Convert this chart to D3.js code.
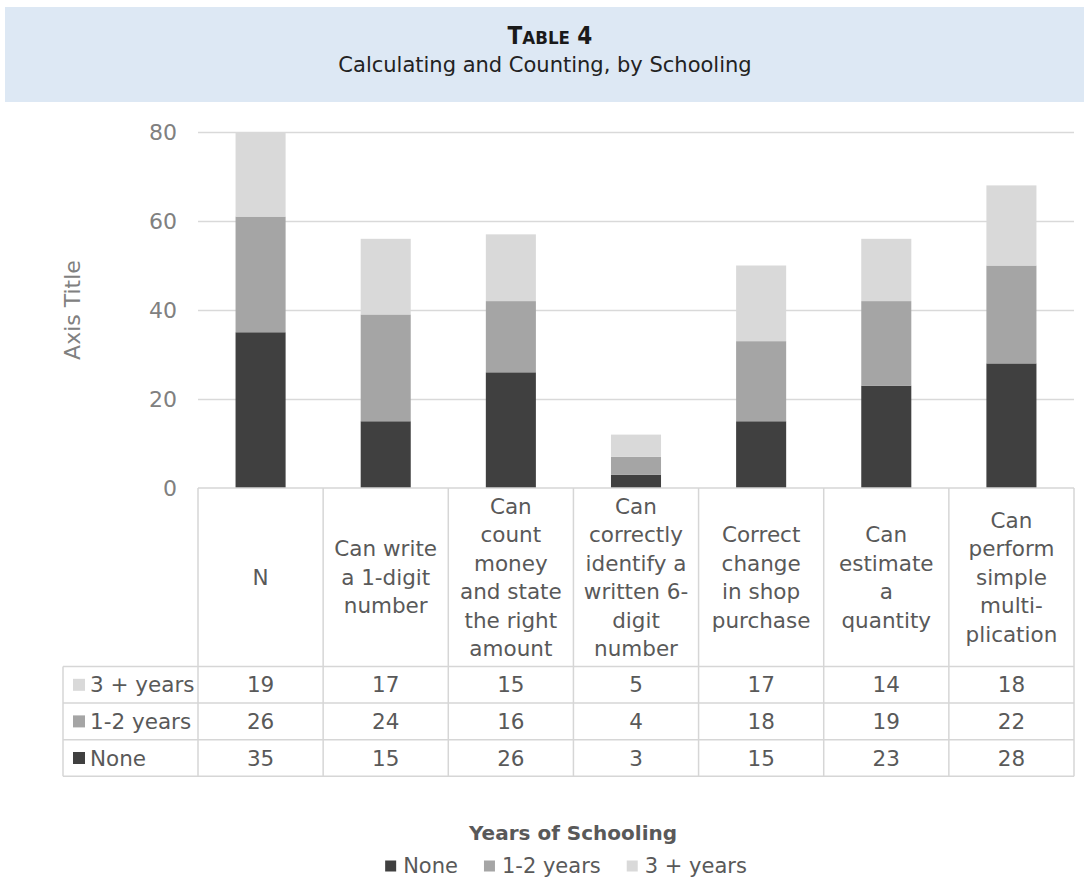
<!DOCTYPE html>
<html>
<head>
<meta charset="utf-8">
<script src="https://cdn.jsdelivr.net/npm/d3@7"></script>
<style>
  html, body { margin: 0; padding: 0; background: #ffffff; }
  svg { display: block; }
  text { font-family: "DejaVu Sans", "Noto Sans", sans-serif; }
</style>
</head>
<body>
<svg id="chart" width="1084" height="879"></svg>
<script>
// Skills measured (multi-line labels as shown in the table header)
const categories = [
  ["N"],
  ["Can write", "a 1-digit", "number"],
  ["Can", "count", "money", "and state", "the right", "amount"],
  ["Can", "correctly", "identify a", "written 6-", "digit", "number"],
  ["Correct", "change", "in shop", "purchase"],
  ["Can", "estimate", "a", "quantity"],
  ["Can", "perform", "simple", "multi-", "plication"]
];

// Counts by years of schooling
const none      = [35, 15, 26, 3, 15, 23, 28];
const oneTwo    = [26, 24, 16, 4, 18, 19, 22];
const threePlus = [19, 17, 15, 5, 17, 14, 18];

const seriesNames  = ["None", "1-2 years", "3 + years"];
const seriesColors = ["#404040", "#a5a5a5", "#d9d9d9"];
const yTicks = [0, 20, 40, 60, 80];

const svg = d3.select("#chart");

// Header band
svg.append("rect")
  .attr("x", 5).attr("y", 7).attr("width", 1079).attr("height", 95)
  .attr("fill", "#dde8f4");

const title = svg.append("text")
  .attr("x", 550).attr("y", 44)
  .attr("text-anchor", "middle")
  .style("font-family", "'Liberation Sans Narrow', 'DejaVu Sans Condensed', sans-serif")
  .style("font-weight", "bold")
  .attr("fill", "#1a1a1a");
title.append("tspan").attr("font-size", 24).text("T");
title.append("tspan").attr("font-size", 18.5).text("ABLE");
title.append("tspan").attr("font-size", 24).text(" 4");

svg.append("text")
  .attr("x", 545).attr("y", 72)
  .attr("text-anchor", "middle")
  .attr("font-size", 21)
  .attr("fill", "#222222")
  .text("Calculating and Counting, by Schooling");

// Scales
const idx = d3.range(categories.length);
const plotLeft = 198, plotRight = 1074;
const cellX = d3.scaleBand().domain(idx).range([plotLeft, plotRight]);
const barX = d3.scaleBand().domain(idx).range([plotLeft, plotRight])
  .paddingInner(0.6).paddingOuter(0.3);
const y = d3.scaleLinear().domain([0, 80]).range([488, 132]);

// Gridlines
svg.append("g")
  .attr("transform", `translate(${plotLeft},0)`)
  .call(d3.axisLeft(y).tickValues(yTicks.filter(t => t > 0))
    .tickSize(-(plotRight - plotLeft)).tickFormat(""))
  .call(g => g.select(".domain").remove())
  .call(g => g.selectAll("line").attr("stroke", "#d9d9d9").attr("stroke-width", 1.5));

// Y tick labels
svg.append("g")
  .attr("transform", `translate(${plotLeft},0)`)
  .call(d3.axisLeft(y).tickValues(yTicks).tickSize(0).tickPadding(21))
  .call(g => g.select(".domain").remove())
  .call(g => g.selectAll("text")
    .attr("font-size", 22)
    .attr("fill", "#808080")
    .style("font-family", "'DejaVu Sans', sans-serif"));

// Axis title
svg.append("text")
  .attr("transform", "translate(80,310) rotate(-90)")
  .attr("text-anchor", "middle")
  .attr("font-size", 22)
  .attr("fill", "#808080")
  .text("Axis Title");

// Stacked bars
const rows = idx.map(i => ({ i, none: none[i], oneTwo: oneTwo[i], threePlus: threePlus[i] }));
const stack = d3.stack().keys(["none", "oneTwo", "threePlus"])(rows);

svg.append("g").selectAll("g")
  .data(stack)
  .join("g")
  .attr("fill", (d, k) => seriesColors[k])
  .selectAll("rect")
  .data(d => d)
  .join("rect")
  .attr("x", d => barX(d.data.i))
  .attr("width", barX.bandwidth())
  .attr("y", d => y(d[1]))
  .attr("height", d => y(d[0]) - y(d[1]));

// Data table
const headerTop = y(0), headerBottom = 666.5, rowH = 36.6;
const tableLeft = 63;
const gridColor = "#d6d6d6";
const table = svg.append("g");

const tableRows = [
  { name: "3 + years", color: seriesColors[2], vals: threePlus },
  { name: "1-2 years", color: seriesColors[1], vals: oneTwo },
  { name: "None",      color: seriesColors[0], vals: none }
];
const tableBottom = headerBottom + rowH * tableRows.length;

// horizontal lines
table.append("line")
  .attr("x1", plotLeft).attr("x2", plotRight)
  .attr("y1", headerTop).attr("y2", headerTop);
d3.range(tableRows.length + 1).forEach(r => {
  table.append("line")
    .attr("x1", tableLeft).attr("x2", plotRight)
    .attr("y1", headerBottom + r * rowH).attr("y2", headerBottom + r * rowH);
});
// vertical lines
table.append("line")
  .attr("x1", tableLeft).attr("x2", tableLeft)
  .attr("y1", headerBottom).attr("y2", tableBottom);
idx.concat([categories.length]).forEach(i => {
  const xx = i < categories.length ? cellX(i) : plotRight;
  table.append("line")
    .attr("x1", xx).attr("x2", xx)
    .attr("y1", headerTop).attr("y2", tableBottom);
});
table.selectAll("line").attr("stroke", gridColor).attr("stroke-width", 1.5);

// header labels
const lineH = 28.5;
const headerMid = (headerTop + headerBottom) / 2;
idx.forEach(i => {
  const lines = categories[i];
  const t = table.append("text")
    .attr("text-anchor", "middle")
    .attr("font-size", 21.5)
    .attr("fill", "#595959");
  lines.forEach((ln, k) => {
    t.append("tspan")
      .attr("x", cellX(i) + cellX.bandwidth() / 2)
      .attr("y", headerMid + (k - (lines.length - 1) / 2) * lineH)
      .attr("dominant-baseline", "central")
      .text(ln);
  });
});

// value rows
tableRows.forEach((row, r) => {
  const cy = headerBottom + r * rowH + rowH / 2;
  table.append("rect")
    .attr("x", 73).attr("y", cy - 6).attr("width", 12).attr("height", 12)
    .attr("fill", row.color);
  table.append("text")
    .attr("x", 90).attr("y", cy)
    .attr("dominant-baseline", "central")
    .attr("font-size", 21.5)
    .attr("fill", "#595959")
    .text(row.name);
  row.vals.forEach((v, i) => {
    table.append("text")
      .attr("x", cellX(i) + cellX.bandwidth() / 2)
      .attr("y", cy)
      .attr("text-anchor", "middle")
      .attr("dominant-baseline", "central")
      .attr("font-size", 21.5)
      .attr("fill", "#595959")
      .text(v);
  });
});

// Legend
svg.append("text")
  .attr("x", 573).attr("y", 840)
  .attr("text-anchor", "middle")
  .attr("font-size", 20)
  .style("font-weight", "bold")
  .attr("fill", "#595959")
  .text("Years of Schooling");

const legend = svg.append("g");
const items = seriesNames.map((name, k) => {
  const g = legend.append("g");
  g.append("rect").attr("width", 11).attr("height", 11).attr("y", -5.5)
    .attr("fill", seriesColors[k]);
  const t = g.append("text").attr("x", 18).attr("y", 0)
    .attr("dominant-baseline", "central")
    .attr("font-size", 21)
    .attr("fill", "#595959")
    .text(name);
  return { g, w: 18 + t.node().getComputedTextLength() };
});
const gap = 26;
const total = d3.sum(items, d => d.w) + gap * (items.length - 1);
let lx = 566 - total / 2;
items.forEach(it => {
  it.g.attr("transform", `translate(${lx},866)`);
  lx += it.w + gap;
});
</script>
</body>
</html>
